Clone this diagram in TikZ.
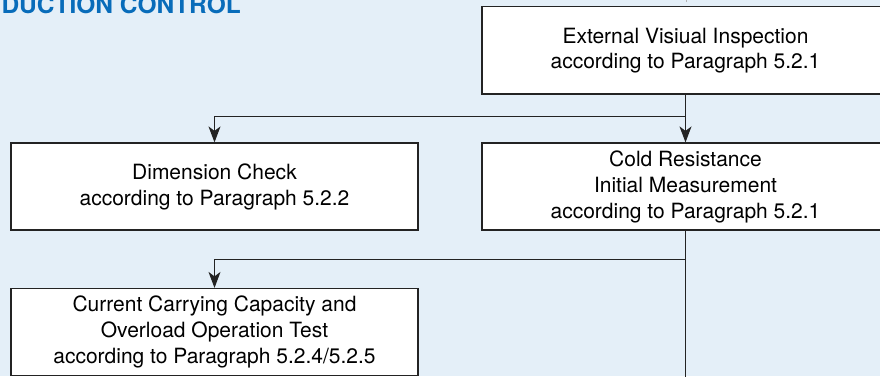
\documentclass[tikz,border=0pt]{standalone}
\usepackage{fontspec}
\setmainfont{TeX Gyre Heros}
\usetikzlibrary{arrows.meta,calc}
\definecolor{bg}{RGB}{228,239,248}
\definecolor{titleblue}{RGB}{8,108,186}
\definecolor{edgegray}{RGB}{35,35,35}
\begin{document}
\begin{tikzpicture}[x=1pt,y=-1pt,
  box/.style={draw=edgegray, line width=1.2pt, fill=white, minimum width=407pt,
    minimum height=87pt, inner sep=0pt, align=center,
    font=\fontsize{21}{26}\selectfont},
  conn/.style={draw=edgegray, line width=1.1pt},
  arr/.style={conn, -{Stealth[length=16pt,width=12pt,inset=4.5pt]}},
  titlestyle/.style={anchor=base east, text=titleblue, inner sep=0pt,
    font=\bfseries\fontsize{24.5}{24.5}\selectfont}]
\fill[bg] (0,0) rectangle (880,376);
\useasboundingbox (0,0) rectangle (880,376);

\node[titlestyle] (title) at (241,13) {DUCTION CONTROL};

\node[box, font=\fontsize{21}{25.5}\selectfont, minimum height=87.3pt] (top) at (685.5,50.4)
  {External Visiual Inspection\\according to Paragraph 5.2.1};
\node[box] (dim) at (214.5,186.5) {Dimension Check\\according to Paragraph 5.2.2};
\node[box] (cold) at (685.5,186.5) {Cold Resistance\\Initial Measurement\\according to Paragraph 5.2.1};
\node[box] (cur) at (214.5,332) {Current Carrying Capacity and\\Overload Operation Test\\according to Paragraph 5.2.4/5.2.5};

\coordinate (s1) at (686,0);
\coordinate (s2) at (686,2);
\draw[draw=gray!60, line width=0.8pt] (s1) -- (s2);

\coordinate (j1) at ($(top.south)+(0,22)$);
\draw[arr] (top.south) -- (cold.north);
\draw[arr] (j1) -| (dim.north);

\coordinate (j2) at ($(cold.south)+(0,29)$);
\coordinate (bottomend) at (685.5,380);
\draw[conn] (cold.south) -- (bottomend);
\draw[arr] (j2) -| (cur.north);
\end{tikzpicture}
\end{document}
